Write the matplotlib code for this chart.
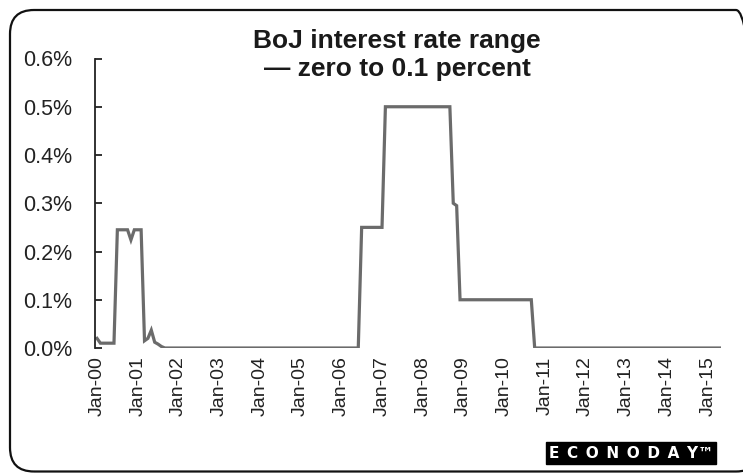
import matplotlib
matplotlib.use('Agg')
import matplotlib.pyplot as plt
from matplotlib.patches import FancyBboxPatch
import numpy as np

# Monthly rate (percent), Jan-2000 onwards, written as runs of (value, months)
run_values = [0.02, 0.01, 0.245, 0.224, 0.245, 0.015, 0.02, 0.037, 0.012, 0.008, 0.003,
              0.0, 0.25, 0.5, 0.30, 0.295, 0.1, 0.0]
run_months = [1, 5, 4, 1, 3, 1, 1, 1, 1, 1, 1,
              58, 7, 20, 1, 1, 22, 56]

tick_labels = ['Jan-00', 'Jan-01', 'Jan-02', 'Jan-03', 'Jan-04', 'Jan-05', 'Jan-06', 'Jan-07',
               'Jan-08', 'Jan-09', 'Jan-10', 'Jan-11', 'Jan-12', 'Jan-13', 'Jan-14', 'Jan-15']
y_ticks = [0.0, 0.1, 0.2, 0.3, 0.4, 0.5, 0.6]

title = 'BoJ interest rate range\n\u2014 zero to 0.1 percent'

rate = np.repeat(run_values, run_months)
months = np.arange(len(rate))

plt.rcParams['font.family'] = ['Liberation Sans', 'DejaVu Sans']

W, H = 743, 474
fig = plt.figure(figsize=(W / 100, H / 100), dpi=100)

# rounded frame around the whole chart (right edge runs off the canvas)
frame = FancyBboxPatch((0.10, 0.025), 7.50, 4.615,
                       boxstyle='round,pad=0,rounding_size=0.24',
                       transform=fig.dpi_scale_trans,
                       facecolor='none', edgecolor='#111111', linewidth=1.6, zorder=-1)
fig.patches.append(frame)

ax = fig.add_axes([94.5 / W, (H - 348) / H, (721.3 - 94.5) / W, (348 - 58.5) / H])
ax.patch.set_alpha(0)

ax.plot(months, rate, color='#6b6b6b', linewidth=2.3, solid_joinstyle='miter')

ax.set_xlim(-0.74, months[-1])
ax.set_ylim(0, 0.6)

for side in ['top', 'right', 'bottom']:
    ax.spines[side].set_visible(False)
ax.spines['left'].set_color('#222222')
ax.spines['left'].set_linewidth(1.3)

ax.set_yticks(y_ticks)
ax.set_yticklabels([f'{v:.1f}%' for v in y_ticks])
ax.tick_params(axis='y', direction='in', length=5, width=1.3, color='#222222',
               pad=16, labelsize=15.5, labelcolor='#222222')

ax.set_xticks(months[::12][:len(tick_labels)])
ax.set_xticklabels(tick_labels, rotation=90)
ax.tick_params(axis='x', length=0, pad=6, labelsize=14, labelcolor='#222222')

fig.text(397 / W, 1 - 29 / H, title, ha='center', va='top', fontsize=19,
         fontweight='bold', color='#1a1a1a', linespacing=1.2)

# logo
fig.text(631 / W, 1 - 453 / H, '\u2002'.join('ECONODAY') + '\u2122',
         ha='center', va='center', fontsize=11, fontweight='bold', color='white',
         family=['DejaVu Sans'],
         bbox=dict(boxstyle='square,pad=0.2', facecolor='black', edgecolor='black'))

fig.savefig('out.png', dpi=100)
